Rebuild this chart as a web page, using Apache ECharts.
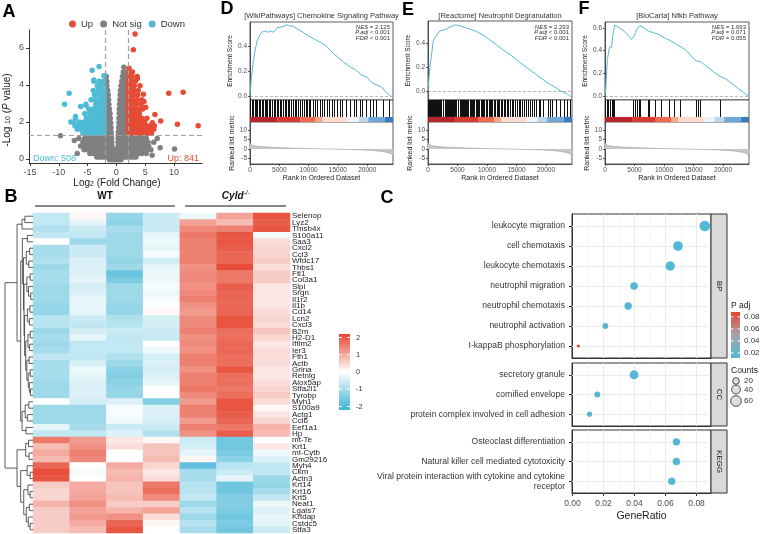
<!DOCTYPE html>
<html>
<head>
<meta charset="utf-8">
<script src="https://cdn.jsdelivr.net/npm/echarts@6/dist/echarts.min.js"></script>
<style>
html, body { margin: 0; padding: 0; background: #fff; }
#main { width: 762px; height: 534px; }
</style>
</head>
<body>
<div id="main"></div>
<script>
// ---------- data: A volcano (rows of [-log10 p, [log2FC ...]]) ----------
var volcanoNotSigRows = [
  [-0.05, [-1.2, -0.8, -0.4, 0, 0.4, 0.8]],
  [0.1, [-3.4, -3, -2.6, -2.2, -1.8, -1.4, -1, -0.6, -0.2, 0.2, 0.6, 1, 1.4, 1.8, 2.2, 2.6, 3, 3.4]],
  [0.3, [-4.6, -4.1, -3.6, -3.1, -2.6, -2.1, -1.6, -1.1, -0.6, -0.1, 0.4, 0.9, 1.4, 1.9, 2.4, 2.9, 3.4, 3.9, 4.4, 5.2]],
  [0.5, [-5.6, -5, -4.5, -4, -3.5, -3, -2.5, -2, -1.5, -1, -0.6, -0.2, 0.3, 0.7, 1.1, 1.5, 2, 2.5, 3, 3.5, 4, 4.5, 5.3, 6]],
  [0.7, [-6.2, -5.4, -4.8, -4.3, -3.8, -3.3, -2.8, -2.3, -1.8, -1.3, -0.8, 0.3, 0.7, 1.1, 1.5, 1.9, 2.3, 2.8, 3.3, 3.8, 4.3, 4.9, 5.6]],
  [0.9, [-5.8, -5.1, -4.6, -4.1, -3.6, -3.1, -2.6, -2.1, -1.7, -1.3, -0.8, 0.3, 0.65, 1.0, 1.4, 1.8, 2.2, 2.6, 3.1, 3.6, 4.1, 4.7, 5.5, 6.5]],
  [1.1, [-6.5, -5.5, -4.9, -4.4, -3.9, -3.4, -2.9, -2.4, -1.9, -1.5, -1.1, -0.85, 0.32, 0.65, 1.0, 1.4, 1.8, 2.2, 2.6, 3.0, 3.4, 3.9, 4.5, 5.2, 7.1]],
  [1.25, [-9.7, -5.2, -4.6, -4, -3.4, -2.8, -2.2, -1.75, -1.3, -0.88, 0.33, 0.7, 1.05, 1.4, 1.8, 2.2, 2.8, 3.4, 4.2, 5]],
  [1.45, [-1.9, -1.55, -1.2, -0.9, 0.35, 0.7, 1.05, 1.4, 1.75, 1.95]],
  [1.7, [-1.9, -1.55, -1.2, -0.93, 0.4, 0.75, 1.1, 1.45, 1.8]],
  [1.95, [-1.9, -1.55, -1.25, -0.98, 0.45, 0.8, 1.15, 1.5, 1.85]],
  [2.2, [-1.9, -1.55, -1.3, -1.05, 0.45, 0.8, 1.15, 1.5, 1.85]],
  [2.45, [-1.9, -1.6, -1.35, -1.1, 0.5, 0.85, 1.2, 1.55, 1.9]],
  [2.7, [-1.9, -1.6, -1.4, -1.2, 0.5, 0.85, 1.2, 1.55, 1.9]],
  [2.95, [-1.9, -1.6, -1.3, 0.55, 0.9, 1.25, 1.6, 1.9]],
  [3.2, [-1.9, -1.65, -1.35, 0.6, 0.95, 1.3, 1.6, 1.9]],
  [3.45, [-1.9, -1.65, -1.4, 0.65, 1.0, 1.3, 1.6, 1.9]],
  [3.7, [-1.9, -1.65, -1.5, 0.7, 1.05, 1.35, 1.65, 1.9]],
  [3.95, [-1.9, -1.65, 0.8, 1.1, 1.4, 1.7]],
  [4.2, [-1.85, -1.65, 0.95, 1.2, 1.5, 1.75]],
  [4.45, [-1.75, 1.05, 1.35, 1.65]],
  [4.7, [1.2, 1.5]],
  [4.95, [1.3]]
];
var volcanoNotSigExtra = [[10.1, 0.54], [-6.8, 0.3], [6.2, 0.2], [-7.3, 1.0], [7.6, 0.6]];
var volcanoUpRows = [
  [1.4, [2.1, 2.5, 2.9, 3.3, 3.7, 4.1, 4.5, 4.9, 5.3, 5.7, 6.1]],
  [1.6, [2.1, 2.5, 2.9, 3.3, 3.7, 4.1, 4.5, 5.0, 5.4, 5.9, 6.5]],
  [1.8, [2.1, 2.5, 2.9, 3.3, 3.7, 4.2, 4.7, 5.3, 6.0, 6.6]],
  [2.0, [2.1, 2.5, 2.9, 3.3, 3.8, 4.3, 4.9]],
  [2.2, [2.1, 2.5, 2.9, 3.3, 3.8, 4.4, 5.3]],
  [2.45, [2.1, 2.5, 2.9, 3.4, 4.0]],
  [2.7, [2.1, 2.5, 2.9, 3.4, 4.1, 4.6]],
  [2.95, [2.1, 2.5, 2.9, 3.5, 4.3]],
  [3.2, [2.1, 2.5, 3.0, 3.6, 4.4]],
  [3.45, [2.1, 2.5, 3.0, 3.7]],
  [3.7, [2.1, 2.5, 3.1, 3.8]],
  [3.95, [2.1, 2.5, 3.1, 4.1]],
  [4.2, [2.1, 2.6, 3.3]],
  [4.45, [2.2, 2.7, 3.6]],
  [4.7, [2.3, 2.8]],
  [4.9, [2.2]]
];
var volcanoUpExtra = [[3.25, 6.76], [2.95, 5.9], [9.1, 3.55], [11.6, 3.6], [14.2, 1.8], [10.6, 1.87], [7.7, 2.05],
  [6.7, 2.4], [6.25, 1.95], [5.1, 2.8], [4.8, 3.1], [4.7, 3.5], [3.65, 4.35], [5.8, 1.5]];
var volcanoDownRows = [
  [1.4, [-2.1, -2.5, -2.9, -3.3, -3.7, -4.1, -4.5, -4.9, -5.3, -5.8]],
  [1.6, [-2.1, -2.5, -2.9, -3.3, -3.7, -4.1, -4.6, -5.1, -5.6, -6.2, -6.8]],
  [1.8, [-2.1, -2.5, -2.9, -3.3, -3.8, -4.3, -4.8, -5.4, -6.0, -6.6, -7.2]],
  [2.0, [-2.1, -2.5, -2.9, -3.3, -3.8, -4.3, -4.9, -5.6, -6.4, -7.9]],
  [2.2, [-2.1, -2.5, -2.9, -3.4, -3.9, -4.5, -5.2, -7.1]],
  [2.45, [-2.1, -2.5, -2.9, -3.4, -4.0, -4.7, -5.5]],
  [2.7, [-2.1, -2.5, -2.9, -3.5, -4.1, -4.8]],
  [2.95, [-2.1, -2.5, -3.0, -3.6, -5.3]],
  [3.2, [-2.1, -2.5, -3.0, -3.7, -4.4]],
  [3.45, [-2.1, -2.5, -3.1, -3.8]],
  [3.7, [-2.1, -2.6, -3.2, -4.0]],
  [3.95, [-2.2, -2.7, -3.3]],
  [4.2, [-2.3, -3.0, -3.9]],
  [4.5, [-2.15]]
];
var volcanoDownExtra = [[-8.2, 3.55], [-9.0, 2.96], [-6.2, 2.83], [-7.35, 2.0], [-3.0, 5.0], [-4.2, 4.8], [-3.9, 4.27], [-5.3, 2.9], [-7.1, 2.3]];
var volcanoXTicks = [-15, -10, -5, 0, 5, 10];
var volcanoYTicks = [0, 2, 4, 6];

// ---------- data: D/E/F GSEA ----------
var RANK_MAX = 24400;
var gseaRankTicks = [0, 5000, 10000, 15000, 20000];
var rankedTicks = [-5, 0, 5, 10];
var esD = [[0, 0], [100, 0.06], [250, 0.15], [500, 0.25], [850, 0.36], [1200, 0.44], [1700, 0.49], [2000, 0.51], [2300, 0.5],
  [2600, 0.52], [3000, 0.51], [3500, 0.52], [4000, 0.51], [4300, 0.51], [4700, 0.55], [5200, 0.55], [5800, 0.56], [6300, 0.57],
  [6800, 0.56], [7300, 0.56], [8000, 0.54], [9000, 0.51], [10000, 0.48], [11000, 0.455], [12000, 0.43], [13000, 0.4],
  [14000, 0.35], [15000, 0.31], [16000, 0.27], [17000, 0.235], [18000, 0.21], [19000, 0.17], [20000, 0.15], [20500, 0.12],
  [21000, 0.1], [21500, 0.09], [22000, 0.08], [22500, 0.07], [23000, 0.04], [23500, 0.02], [24000, 0]];
var esE = [[0, 0], [150, 0.1], [340, 0.2], [620, 0.31], [900, 0.42], [1400, 0.46], [2000, 0.5], [2800, 0.51], [3300, 0.52],
  [3800, 0.535], [4600, 0.55], [5400, 0.545], [6200, 0.53], [7100, 0.515], [8000, 0.5], [8800, 0.48], [9700, 0.455],
  [10500, 0.425], [11600, 0.385], [12800, 0.34], [14000, 0.3], [15000, 0.26], [16200, 0.215], [17300, 0.175], [18400, 0.135],
  [19500, 0.095], [20500, 0.06], [21300, 0.04], [22000, 0.015], [22500, 0], [23000, -0.01], [23600, -0.025], [24000, -0.04], [24400, -0.05]];
var esF = [[0, 0], [150, 0.08], [230, 0.17], [400, 0.32], [650, 0.32], [750, 0.43], [1100, 0.43], [1300, 0.53], [1550, 0.54],
  [1650, 0.625], [2500, 0.6], [3500, 0.56], [4500, 0.5], [4800, 0.49], [4950, 0.53], [5150, 0.56], [5400, 0.59], [5900, 0.62],
  [6500, 0.605], [7300, 0.575], [7500, 0.58], [8400, 0.555], [9000, 0.545], [10000, 0.515], [11000, 0.49], [12000, 0.46],
  [13000, 0.43], [14000, 0.39], [15000, 0.33], [15500, 0.31], [16300, 0.3], [17000, 0.27], [18000, 0.23], [19000, 0.19],
  [19500, 0.175], [19700, 0.19], [20500, 0.15], [21500, 0.11], [22500, 0.07], [23500, 0.03], [24300, 0]];
var hitsD = [110, 340, 570, 850, 1020, 1250, 1590, 1820, 2050, 2280, 2560, 2850, 3020, 3300, 3530, 3810, 4100, 4380, 4610,
  4890, 5120, 5410, 5690, 5980, 6260, 6490, 6710, 7000, 7400, 7740, 7970, 8310, 8650, 8990, 9220, 9560, 9840, 10130, 10360,
  10810, 11150, 11490, 11950, 12290, 12750, 13200, 13540, 14000, 14340, 14910, 15360, 15820, 16390, 17180, 17750, 18210,
  18780, 19230, 19920, 20480, 21050, 21620, 22760, 23780];
var hitsE = [30, 200, 380, 550, 700, 900, 1050, 1250, 1400, 1600, 1750, 1950, 2150, 2300, 2500, 2650, 2850, 3050, 3200, 3400,
  3550, 3750, 3950, 4100, 4300, 4500, 4650, 4850, 5050, 5200, 5400, 5600, 5750, 5950, 6150, 6300, 6500, 6700, 6900, 7100,
  7300, 7450, 7700, 7900, 8100, 8300, 8550, 8750, 8950, 9200, 9400, 9600, 9850, 10050, 10300, 10500, 10700, 10950, 11150,
  11400, 11650, 11850, 12100, 12350, 12600, 12850, 13100, 13350, 13600, 13900, 14200, 14500, 14800, 15100, 15400, 15700,
  16000, 16300, 16650, 17000, 17300, 17700, 18000, 18400, 18800, 19100, 19500, 20300, 20700, 21000, 21700, 22400, 23100,
  23600, 24100];
var hitsF = [110, 390, 620, 900, 1190, 1470, 1650, 4860, 5140, 5480, 5760, 5900, 7400, 7500, 8530, 9540, 10950, 11800,
  12760, 15470, 15870, 16210, 19600];
var rankedMetric = [[0, 3.0], [150, 2.4], [500, 1.9], [1200, 1.5], [2300, 1.2], [3500, 0.95], [5100, 0.7], [7000, 0.5],
  [9000, 0.3], [10800, 0.15], [12500, 0.05], [13500, 0], [15400, -0.15], [17500, -0.3], [19300, -0.5], [21000, -0.8],
  [22200, -1.2], [23200, -1.7], [23900, -2.3], [24400, -3.2]];
var rankBandEdges = [0, 4700, 8600, 11200, 12400, 16600, 18600, 20200, 23000, 24400];

// ---------- data: B heatmap ----------
var heatSamples = ['WT1', 'WT2', 'WT3', 'WT4', 'KO1', 'KO2', 'KO3'];
var heatGenes = ['Selenop', 'Lyz2', 'Tmsb4x', 'S100a11', 'Saa3', 'Cxcl2', 'Ccl3', 'Wfdc17', 'Thbs1', 'Ftl1', 'Col3a1',
  'Slpi', 'Srgn', 'Il1r2', 'Il1b', 'Cd14', 'Lcn2', 'Cxcl3', 'B2m', 'H2-D1', 'Ifitm2', 'Ier3', 'Fth1', 'Actb', 'Grina',
  'Retnlg', 'Alox5ap', 'Stfa2l1', 'Tyrobp', 'Myh1', 'S100a9', 'Actg1', 'Ccl6', 'Eef1a1', 'Hp', 'mt-Te', 'Krt1', 'mt-Cytb',
  'Gm29216', 'Myh4', 'Ckm', 'Actn3', 'Krt14', 'Krt16', 'Krt5', 'Neat1', 'Lgals7', 'Krtdap', 'Cstdc5', 'Stfa3'];
var heatValues = [
  [-0.7, 0.1, -1.2, -0.6, -0.2, 1.1, 2.0],
  [-0.7, -0.3, -1.3, -0.6, 1.1, 0.8, 1.9],
  [-0.9, -0.6, -1.0, -0.6, 1.4, 1.5, 2.0],
  [-0.7, -0.7, -1.1, -0.3, 1.6, 2.0, -0.1],
  [0.0, -1.1, -1.1, -0.2, 1.5, 2.0, 0.4],
  [-1.0, -0.6, -1.1, -0.3, 1.5, 1.9, 0.5],
  [-1.0, -0.6, -1.1, -0.1, 1.5, 1.8, 0.5],
  [-0.9, -0.4, -1.2, -0.5, 1.5, 1.8, 0.6],
  [-1.1, -0.4, -1.1, -0.3, 1.3, 2.1, 0.4],
  [-1.0, -0.4, -1.7, -0.2, 1.4, 1.6, 0.6],
  [-1.0, -0.3, -1.5, -0.2, 1.4, 1.6, 0.6],
  [-1.1, -0.5, -1.1, -0.1, 1.3, 1.9, 0.3],
  [-1.1, -0.4, -1.1, -0.2, 1.4, 1.8, 0.3],
  [-1.1, -0.3, -1.1, -0.1, 1.5, 1.8, 0.3],
  [-1.2, -0.3, -1.2, 0.0, 1.3, 1.8, 0.3],
  [-1.2, -0.3, -1.2, 0.1, 1.2, 1.8, 0.4],
  [-0.8, -0.6, -0.9, -0.5, 1.4, 2.0, 0.5],
  [-0.8, -0.7, -0.8, -0.5, 1.4, 2.0, 0.4],
  [-1.1, -0.5, -0.6, -0.6, 1.5, 1.7, 0.7],
  [-1.0, -0.3, -0.7, -0.6, 1.3, 1.7, 0.5],
  [-1.1, -0.7, -0.7, 0.0, 1.4, 1.8, 0.3],
  [-1.0, -0.7, -0.7, -0.2, 1.3, 1.8, 0.4],
  [-0.7, -0.7, -0.9, -0.5, 1.5, 1.7, 0.4],
  [-1.0, -0.5, -1.1, -0.4, 1.5, 1.7, 0.4],
  [-1.0, -0.2, -1.3, -0.5, 1.3, 2.0, 0.3],
  [-1.0, -0.3, -1.4, -0.4, 1.5, 1.7, 0.3],
  [-1.1, -0.4, -1.3, -0.3, 1.5, 1.7, 0.4],
  [-1.1, -0.4, -1.2, 0.0, 1.6, 1.6, 0.5],
  [-1.1, -0.4, -1.2, 0.0, 1.4, 1.7, 0.6],
  [0.0, -0.5, -0.4, -1.4, 1.2, 2.0, 0.4],
  [-1.1, -1.1, -0.1, -0.4, 1.5, 2.0, 0.1],
  [-1.1, -1.1, -0.1, -0.4, 1.5, 1.9, 0.3],
  [-1.1, -1.1, -0.2, -0.5, 1.2, 1.8, 0.5],
  [-0.3, -1.0, -0.6, -0.6, 1.5, 1.6, 0.9],
  [-0.7, -0.7, -0.4, -0.9, 1.3, 1.9, 0.8],
  [1.6, 1.2, 0.3, 0.1, -0.6, -1.6, 0.0],
  [0.8, 1.3, 0.4, 0.7, -0.5, -1.6, 0.3],
  [1.0, 1.5, 0.0, 0.7, -0.3, -1.5, -0.2],
  [0.8, 1.4, 0.0, 0.8, 0.1, -1.3, -0.4],
  [1.8, 0.0, 1.0, 0.5, -1.8, -0.8, -0.7],
  [2.1, -0.1, 0.8, 0.3, -1.0, -0.6, -0.7],
  [2.0, 0.0, 0.9, 0.4, -1.0, -0.3, -1.1],
  [0.6, 1.0, 0.7, 1.6, -0.8, -1.6, -1.2],
  [0.5, 1.0, 0.7, 1.7, -0.8, -1.6, -1.0],
  [0.5, 1.1, 0.8, 1.4, -0.7, -1.4, -0.7],
  [0.9, 1.3, 0.6, 0.6, -1.1, -1.4, -0.2],
  [0.6, 1.1, 0.9, 1.1, -0.8, -1.5, -0.4],
  [0.6, 1.2, 1.3, 0.4, -1.1, -1.6, -0.3],
  [0.6, 1.0, 1.8, 0.1, -0.8, -1.5, -0.3],
  [0.6, 0.8, 2.0, 0.0, -1.0, -1.6, -0.6]
];
var heatLegendTicks = [2, 1, 0, -1, -2];
// row dendrogram: [height, left, right], leaves are row indices
var dendroTree = [10,
  [5.7,
    [3.9, [2.9, 0, 1], 2],
    [4.4,
      [3.8, [2.0, 3, 4],
        [3.4, [2.4, [1.2, 5, 6], [1.5, 7, 8]],
          [3.2, [2.2, [1.0, 9, 10], [1.6, 11, [0.8, 12, 13]]],
            [3.0, [2.0, [1.1, 14, 15], [1.3, 16, 17]],
              [2.6, [1.8, [1.0, 18, 19], [1.2, 20, 21]],
                [2.2, [1.4, 22, 23], [1.7, [1.0, 24, 25], [1.3, 26, [0.9, 27, 28]]]]]]]]],
      [3.9, [2.8, [1.5, 29, 30], [2.0, 31, 32]], [2.5, 33, 34]]]],
  [5.7,
    [2.6, [1.6, 35, 36], [1.4, 37, 38]],
    [4.4, [2.1, 39, [1.0, 40, 41]],
      [3.3, [1.8, 42, [1.0, 43, 44]], [2.4, [1.3, 45, 46], [1.7, 47, [1.0, 48, 49]]]]]]];

// ---------- data: C enrichment dot plot ----------
var bpTerms = ['leukocyte migration', 'cell chemotaxis', 'leukocyte chemotaxis', 'neutrophil migration',
  'neutrophil chemotaxis', 'neutrophil activation', 'I-kappaB phosphorylation'];
var bpRatio = [0.0853, 0.068, 0.063, 0.0397, 0.0359, 0.0212, 0.0038];
var bpCount = [60, 48, 45, 28, 26, 15, 3];
var bpPadj = [0.012, 0.012, 0.012, 0.013, 0.013, 0.014, 0.088];
var ccTerms = ['secretory granule', 'cornified envelope', 'protein complex involved in cell adhesion'];
var ccRatio = [0.0397, 0.016, 0.011];
var ccCount = [40, 16, 11];
var ccPadj = [0.012, 0.013, 0.014];
var keggTerms = ['Osteoclast differentiation', 'Natural killer cell mediated cytotoxicity',
  'Viral protein interaction with cytokine and cytokine\nreceptor'];
var keggRatio = [0.067, 0.067, 0.064];
var keggCount = [26, 26, 25];
var keggPadj = [0.012, 0.012, 0.012];
var geneRatioTicks = [0, 0.02, 0.04, 0.06, 0.08];
var padjTicks = [0.08, 0.06, 0.04, 0.02];
var countTicks = [20, 40, 60];

// ---------- styles ----------
var FONT = '"Liberation Sans", Arial, Helvetica, sans-serif';
var RED = '#E64B35', CYAN = '#4DBBD5', GREY = '#808080';
var bandColors = ['#B8262B', '#D9392F', '#F06A4D', '#F8A78C', '#FCDCCF', '#EEF2F9', '#BDD5EA', '#6FA8D6', '#3A7DBE'];
var heatColors = ['#3DB2D5', '#FFFFFF', '#E6452F'];
var padjColors = ['#52B8D6', '#A6A3AB', '#E8432E'];

var grid = [], xAxis = [], yAxis = [], series = [], graphic = [];

function rowsToPoints(rows, extra) {
  var pts = [];
  rows.forEach(function (r) { r[1].forEach(function (x) { pts.push([x, r[0]]); }); });
  return pts.concat(extra);
}
function dotSize(c) { return 1.25 * Math.sqrt(c) + 1.0; }
function txt(x, y, text, o) {
  o = o || {};
  var rich = o.rich || {};
  Object.keys(rich).forEach(function (k) { rich[k].fontFamily = FONT; });
  return {
    type: 'text', x: x, y: y, rotation: o.rotation || 0, silent: true, z: 100,
    style: {
      text: text, fill: o.color || '#1A1A1A', fontSize: o.size || 9, fontFamily: FONT,
      fontWeight: o.weight || 'normal', fontStyle: o.fontStyle || 'normal',
      align: o.align || 'left', verticalAlign: o.valign || 'middle',
      textAlign: o.align || 'left', textVerticalAlign: o.valign || 'middle', rich: rich
    }
  };
}
function hline(x1, y1, x2, y2, color, w, dash) {
  return { type: 'line', silent: true, z: 100, shape: { x1: x1, y1: y1, x2: x2, y2: y2 },
    style: { stroke: color, lineWidth: w, lineDash: dash || null } };
}
function axisLineStyle(w) { return { show: true, onZero: false, lineStyle: { color: '#333', width: w } }; }

// ---------- A: volcano ----------
grid.push({ left: 29, top: 30, width: 173, height: 133, outerBoundsMode: 'none' });
xAxis.push({ gridIndex: 0, type: 'value', min: -15.17, max: 14.87, axisLine: axisLineStyle(1),
  axisTick: { show: true, length: 3, customValues: volcanoXTicks, lineStyle: { color: '#333' } },
  axisLabel: { customValues: volcanoXTicks, fontSize: 9, color: '#4D4D4D', margin: 5, fontFamily: FONT },
  splitLine: { show: false } });
yAxis.push({ gridIndex: 0, type: 'value', min: -0.22, max: 6.97, axisLine: axisLineStyle(1),
  axisTick: { show: true, length: 3, customValues: volcanoYTicks, lineStyle: { color: '#333' } },
  axisLabel: { customValues: volcanoYTicks, fontSize: 9, color: '#4D4D4D', margin: 5, fontFamily: FONT },
  splitLine: { show: false } });
series.push({ type: 'scatter', name: 'Not sig', xAxisIndex: 0, yAxisIndex: 0, silent: true, symbolSize: 5.5,
  itemStyle: { color: GREY, opacity: 1 }, data: rowsToPoints(volcanoNotSigRows, volcanoNotSigExtra), z: 2 });
series.push({ type: 'scatter', name: 'Up', xAxisIndex: 0, yAxisIndex: 0, silent: true, symbolSize: 5.5,
  itemStyle: { color: RED, opacity: 1 }, data: rowsToPoints(volcanoUpRows, volcanoUpExtra), z: 3 });
series.push({ type: 'scatter', name: 'Down', xAxisIndex: 0, yAxisIndex: 0, silent: true, symbolSize: 5.5,
  itemStyle: { color: CYAN, opacity: 1 }, data: rowsToPoints(volcanoDownRows, volcanoDownExtra), z: 3 });
series.push({ type: 'scatter', xAxisIndex: 0, yAxisIndex: 0, data: [], z: 5,
  markLine: { silent: true, symbol: 'none', label: { show: false },
    lineStyle: { color: '#A0A0A0', type: [5, 3], width: 1.2 },
    data: [{ xAxis: -2 }, { xAxis: 2 }, { yAxis: 1.3 }] } });
graphic.push(txt(9, 12.5, 'A', { size: 18, weight: 'bold', color: '#000', align: 'center' }));
graphic.push(txt(7, 110, '-Log {s|10} ({i|P} value)', { size: 10, align: 'center', rotation: Math.PI / 2,
  rich: { s: { fontSize: 7, verticalAlign: 'bottom', fill: '#1A1A1A' }, i: { fontSize: 10, fontStyle: 'italic', fill: '#1A1A1A' } } }));
graphic.push(txt(117, 183, 'Log{s|2} (Fold Change)', { size: 10, align: 'center',
  rich: { s: { fontSize: 7, verticalAlign: 'bottom', fill: '#1A1A1A' } } }));
graphic.push(txt(33, 159, 'Down: 508', { size: 9, color: CYAN }));
graphic.push(txt(199, 159, 'Up: 841', { size: 9, color: RED, align: 'right' }));

// ---------- D / E / F: GSEA ----------
function addGsea(p) {
  var g = grid.length;
  var frame = { show: true, borderColor: '#333', borderWidth: 0.8, backgroundColor: '#fff', outerBoundsMode: 'none' };
  grid.push(Object.assign({ left: p.left, top: p.esTop, width: p.width, height: 100 - p.esTop }, frame));
  grid.push(Object.assign({ left: p.left, top: 100, width: p.width, height: 22 }, frame));
  grid.push(Object.assign({ left: p.left, top: 122, width: p.width, height: 42 }, frame));
  var xi = xAxis.length, yi = yAxis.length;
  xAxis.push({ gridIndex: g, type: 'value', min: 0, max: RANK_MAX, show: false });
  xAxis.push({ gridIndex: g + 1, type: 'value', min: 0, max: RANK_MAX, show: false });
  xAxis.push({ gridIndex: g + 2, type: 'value', min: 0, max: RANK_MAX,
    name: 'Rank in Ordered Dataset', nameLocation: 'middle', nameGap: 10,
    nameTextStyle: { fontSize: 7, color: '#1A1A1A', fontFamily: FONT },
    axisLine: axisLineStyle(0.8),
    axisTick: { show: true, length: 2, customValues: gseaRankTicks, lineStyle: { color: '#333', width: 0.8 } },
    axisLabel: { customValues: gseaRankTicks, fontSize: 6.5, color: '#4D4D4D', margin: 3, fontFamily: FONT,
      formatter: function (v) { return String(Math.round(v)); } },
    splitLine: { show: false } });
  yAxis.push({ gridIndex: g, type: 'value', min: p.esMin, max: p.esMax,
    name: 'Enrichment Score', nameLocation: 'middle', nameGap: 14,
    nameTextStyle: { fontSize: 6.5, color: '#1A1A1A', fontFamily: FONT },
    axisLine: axisLineStyle(0.8),
    axisTick: { show: true, length: 2, customValues: p.esTicks, lineStyle: { color: '#333', width: 0.8 } },
    axisLabel: { customValues: p.esTicks, fontSize: 6.5, color: '#4D4D4D', margin: 3, fontFamily: FONT,
      formatter: function (v) { return v.toFixed(1); } },
    splitLine: { show: false } });
  yAxis.push({ gridIndex: g + 1, type: 'value', min: 0, max: 1, show: false });
  yAxis.push({ gridIndex: g + 2, type: 'value', min: -7.9, max: 14.2,
    name: 'Ranked list metric', nameLocation: 'middle', nameGap: 12.5,
    nameTextStyle: { fontSize: 7, color: '#1A1A1A', fontFamily: FONT },
    axisLine: axisLineStyle(0.8),
    axisTick: { show: true, length: 2, customValues: rankedTicks, lineStyle: { color: '#333', width: 0.8 } },
    axisLabel: { customValues: rankedTicks, fontSize: 6.5, color: '#4D4D4D', margin: 3, fontFamily: FONT },
    splitLine: { show: false } });
  series.push({ type: 'line', xAxisIndex: xi, yAxisIndex: yi, data: p.es, showSymbol: false, silent: true,
    lineStyle: { color: '#56B9D3', width: 1 }, z: 3,
    markLine: { silent: true, symbol: 'none', label: { show: false },
      lineStyle: { color: '#9A9A9A', type: [3, 2], width: 0.7 }, data: [{ yAxis: 0 }] } });
  var bands = [];
  for (var i = 0; i < bandColors.length; i++) {
    bands.push([{ coord: [rankBandEdges[i], 0], itemStyle: { color: bandColors[i], opacity: 1 } },
                { coord: [rankBandEdges[i + 1], 0.23] }]);
  }
  series.push({ type: 'scatter', xAxisIndex: xi + 1, yAxisIndex: yi + 1, data: [], silent: true,
    markLine: { silent: true, symbol: 'none', label: { show: false },
      lineStyle: { color: '#111', width: 1, type: 'solid' },
      data: p.hits.map(function (r) { return [{ coord: [r, 0.23] }, { coord: [r, 1] }]; }) },
    markArea: { silent: true, data: bands } });
  series.push({ type: 'line', xAxisIndex: xi + 2, yAxisIndex: yi + 2, data: rankedMetric, showSymbol: false,
    silent: true, lineStyle: { color: '#A0A0A0', width: 0.6 }, areaStyle: { color: '#C6C6C6', opacity: 1 } });
  graphic.push(txt(p.left + p.width / 2, 16, p.title, { size: 7.5, color: '#333', align: 'center' }));
  var rx = p.left + p.width - 3;
  function it() { return { i: { fontStyle: 'italic', fontSize: 6, fill: '#333' } }; }
  graphic.push(txt(rx, 27, '{i|NES} = ' + p.stats[0], { size: 6, color: '#333', align: 'right', rich: it() }));
  graphic.push(txt(rx, 32.5, '{i|P.adj} ' + p.stats[1], { size: 6, color: '#333', align: 'right', rich: it() }));
  graphic.push(txt(rx, 38, '{i|FDR} ' + p.stats[2], { size: 6, color: '#333', align: 'right', rich: it() }));
}
addGsea({ left: 250, width: 143, esTop: 22, esMin: -0.032, esMax: 0.592, esTicks: [0, 0.2, 0.4], es: esD, hits: hitsD,
  title: '[WikiPathways] Chemokine Signaling Pathway', stats: ['2.125', '< 0.001', '< 0.001'] });
addGsea({ left: 428, width: 144, esTop: 21, esMin: -0.075, esMax: 0.583, esTicks: [0, 0.2, 0.4], es: esE, hits: hitsE,
  title: '[Reactome] Neutrophil Degranulation', stats: ['2.293', '< 0.001', '< 0.001'] });
addGsea({ left: 605, width: 144, esTop: 22, esMin: -0.035, esMax: 0.653, esTicks: [0, 0.2, 0.4, 0.6], es: esF, hits: hitsF,
  title: '[BioCarta] Nfkb Pathway', stats: ['1.693', '= 0.071', '= 0.055'] });
graphic.push(txt(227, 9, 'D', { size: 18, weight: 'bold', color: '#000', align: 'center' }));
graphic.push(txt(408, 10, 'E', { size: 18, weight: 'bold', color: '#000', align: 'center' }));
graphic.push(txt(584, 9, 'F', { size: 18, weight: 'bold', color: '#000', align: 'center' }));

// ---------- B: heatmap ----------
var gH = grid.length;
grid.push({ left: 33, top: 213, width: 257, height: 320, outerBoundsMode: 'none' });
var xH = xAxis.length, yH = yAxis.length;
xAxis.push({ gridIndex: gH, type: 'category', data: heatSamples, show: false });
yAxis.push({ gridIndex: gH, type: 'category', data: heatGenes, inverse: true, position: 'right',
  axisLine: { show: false }, axisTick: { show: false }, splitLine: { show: false },
  axisLabel: { interval: 0, hideOverlap: false, fontSize: 8, color: '#1A1A1A', margin: 2, fontFamily: FONT } });
var heatData = [];
heatValues.forEach(function (row, r) { row.forEach(function (v, c) { heatData.push([c, r, v]); }); });
var heatSeriesIndex = series.length;
series.push({ type: 'heatmap', xAxisIndex: xH, yAxisIndex: yH, data: heatData, silent: true,
  itemStyle: { borderWidth: 0 } });
// dendrogram
var gDen = grid.length;
grid.push({ left: 3, top: 213, width: 30, height: 320, outerBoundsMode: 'none' });
var xDen = xAxis.length, yDen = yAxis.length;
xAxis.push({ gridIndex: gDen, type: 'value', min: 0, max: 10.71, inverse: true, show: false });
yAxis.push({ gridIndex: gDen, type: 'value', min: 0, max: heatGenes.length, inverse: true, show: false });
var dendroLines = [];
function layoutTree(node) {
  if (typeof node === 'number') return { y: node + 0.5, h: 0 };
  var a = layoutTree(node[1]), b = layoutTree(node[2]);
  dendroLines.push({ coords: [[a.h, a.y], [node[0], a.y], [node[0], b.y], [b.h, b.y]] });
  return { y: (a.y + b.y) / 2, h: node[0] };
}
layoutTree(dendroTree);
series.push({ type: 'lines', coordinateSystem: 'cartesian2d', xAxisIndex: xDen, yAxisIndex: yDen, polyline: true,
  silent: true, data: dendroLines, lineStyle: { color: '#333', width: 0.8, opacity: 1 } });
graphic.push(txt(11, 197.5, 'B', { size: 18, weight: 'bold', color: '#000', align: 'center' }));
graphic.push(txt(105, 196, 'WT', { size: 10, weight: 'bold', color: '#111', align: 'center' }));
graphic.push(hline(35, 206, 175, 206, '#111', 1.2));
graphic.push(txt(236, 196, '{c|Cyld}{s|-/-}', { size: 10, align: 'center',
  rich: { c: { fontSize: 10, fontWeight: 'bold', fontStyle: 'italic', fill: '#111' },
          s: { fontSize: 7, fontStyle: 'italic', fill: '#111', verticalAlign: 'top', padding: [0, 0, 6, 0] } } }));
graphic.push(hline(185, 206, 286, 206, '#111', 1.2));
// heatmap colour key
graphic.push({ type: 'rect', silent: true, z: 100, shape: { x: 339, y: 334, width: 11, height: 76 },
  style: { fill: { type: 'linear', x: 0, y: 0, x2: 0, y2: 1,
    colorStops: [{ offset: 0, color: heatColors[2] }, { offset: 0.5, color: heatColors[1] }, { offset: 1, color: heatColors[0] }] } } });
heatLegendTicks.forEach(function (v) {
  var y = 334 + (2.2 - v) / 4.4 * 76;
  graphic.push(hline(339, y, 350, y, '#fff', 1, [3, 5]));
  graphic.push(txt(356, y, String(v), { size: 7.5, color: '#333' }));
});

// ---------- C: dot plot ----------
var dotSeries = [];
function addDotPanel(top, height, terms, ratio, count, padj, isBottom, strip) {
  var g = grid.length;
  grid.push({ left: 572, top: top, width: 139, height: height, show: true, borderColor: '#333', borderWidth: 1,
    backgroundColor: '#fff', outerBoundsMode: 'none' });
  var xi = xAxis.length, yi = yAxis.length, n = terms.length;
  var yTicks = terms.map(function (t, i) { return i + 1; });
  xAxis.push({ gridIndex: g, type: 'value', min: -0.0003, max: 0.0893,
    axisLine: { show: true, onZero: false, lineStyle: { color: '#333', width: 1 } },
    axisTick: { show: isBottom, length: 3, customValues: geneRatioTicks, lineStyle: { color: '#333' } },
    axisLabel: { show: isBottom, customValues: geneRatioTicks, fontSize: 8.5, color: '#4D4D4D', margin: 6, fontFamily: FONT,
      formatter: function (v) { return v.toFixed(2); } },
    name: isBottom ? 'GeneRatio' : '', nameLocation: 'middle', nameGap: 18,
    nameTextStyle: { fontSize: 10.5, color: '#1A1A1A', fontFamily: FONT },
    splitLine: { show: false } });
  yAxis.push({ gridIndex: g, type: 'value', min: 0.4, max: n + 0.6, inverse: true,
    axisLine: { show: true, onZero: false, lineStyle: { color: '#333', width: 1 } },
    axisTick: { show: true, length: 3, customValues: yTicks, lineStyle: { color: '#333' } },
    axisLabel: { customValues: yTicks, fontSize: 8.5, color: '#333', margin: 7, lineHeight: 10, fontFamily: FONT,
      formatter: function (v) { return terms[Math.round(v) - 1]; } },
    splitLine: { show: false } });
  var gl = [];
  [0.01, 0.03, 0.05, 0.07].forEach(function (v) { gl.push({ xAxis: v, lineStyle: { color: '#F2F2F2', width: 0.6, type: 'solid' } }); });
  [0.02, 0.04, 0.06, 0.08].forEach(function (v) { gl.push({ xAxis: v, lineStyle: { color: '#EBEBEB', width: 1, type: 'solid' } }); });
  yTicks.forEach(function (v) { gl.push({ yAxis: v, lineStyle: { color: '#EBEBEB', width: 1, type: 'solid' } }); });
  series.push({ type: 'scatter', xAxisIndex: xi, yAxisIndex: yi, data: [], z: 1,
    markLine: { silent: true, symbol: 'none', label: { show: false }, z: 1, data: gl } });
  dotSeries.push(series.length);
  series.push({ type: 'scatter', xAxisIndex: xi, yAxisIndex: yi, silent: true, z: 4,
    itemStyle: { opacity: 1 },
    data: terms.map(function (t, i) { return [ratio[i], i + 1, padj[i], count[i]]; }),
    symbolSize: function (v) { return dotSize(v[3]); } });
  graphic.push({ type: 'rect', silent: true, z: 100, shape: { x: 711, y: top, width: 16, height: height },
    style: { fill: '#D9D9D9', stroke: '#333', lineWidth: 1 } });
  graphic.push(txt(719, top + height / 2, strip, { size: 8, color: '#1A1A1A', align: 'center', rotation: -Math.PI / 2 }));
}
addDotPanel(214, 144, bpTerms, bpRatio, bpCount, bpPadj, false, 'BP');
addDotPanel(363, 63, ccTerms, ccRatio, ccCount, ccPadj, false, 'CC');
addDotPanel(430, 63, keggTerms, keggRatio, keggCount, keggPadj, true, 'KEGG');
graphic.push(txt(387, 198.5, 'C', { size: 18, weight: 'bold', color: '#000', align: 'center' }));
// P adj key
graphic.push(txt(731, 306, 'P adj', { size: 8.5, color: '#1A1A1A' }));
graphic.push({ type: 'rect', silent: true, z: 100, shape: { x: 731, y: 312, width: 9, height: 46 },
  style: { fill: { type: 'linear', x: 0, y: 0, x2: 0, y2: 1,
    colorStops: [{ offset: 0, color: padjColors[2] }, { offset: 0.5, color: padjColors[1] }, { offset: 1, color: padjColors[0] }] } } });
padjTicks.forEach(function (v) {
  var y = 312 + (0.088 - v) / 0.0763 * 46;
  graphic.push(hline(731, y, 733.5, y, '#fff', 1));
  graphic.push(hline(737.5, y, 740, y, '#fff', 1));
  graphic.push(txt(744, y, v.toFixed(2), { size: 8, color: '#333' }));
});
// Counts key
graphic.push(txt(731, 371, 'Counts', { size: 8.5, color: '#1A1A1A' }));
var countY = [381, 389.5, 401];
countTicks.forEach(function (c, i) {
  graphic.push({ type: 'circle', silent: true, z: 100, shape: { cx: 736, cy: countY[i], r: dotSize(c) / 2 },
    style: { fill: '#DDDDDD', stroke: '#4D4D4D', lineWidth: 1 } });
  graphic.push(txt(744, countY[i], String(c), { size: 8, color: '#333' }));
});

var chart = echarts.init(document.getElementById('main'), null, { renderer: 'canvas' });
chart.setOption({
  animation: false,
  backgroundColor: '#fff',
  textStyle: { fontFamily: FONT },
  legend: { data: ['Up', 'Not sig', 'Down'], left: 69, top: 19, itemWidth: 7, itemHeight: 7, itemGap: 7, icon: 'circle',
    padding: 0, selectedMode: false, textStyle: { fontSize: 9.5, color: '#333', fontFamily: FONT } },
  visualMap: [
    { type: 'continuous', show: false, seriesIndex: heatSeriesIndex, dimension: 2, min: -2.2, max: 2.2,
      inRange: { color: heatColors } },
    { type: 'continuous', show: false, seriesIndex: dotSeries, dimension: 2, min: 0.0117, max: 0.088,
      inRange: { color: padjColors } }
  ],
  grid: grid, xAxis: xAxis, yAxis: yAxis, series: series,
  graphic: { elements: graphic }
});
</script>
</body>
</html>
